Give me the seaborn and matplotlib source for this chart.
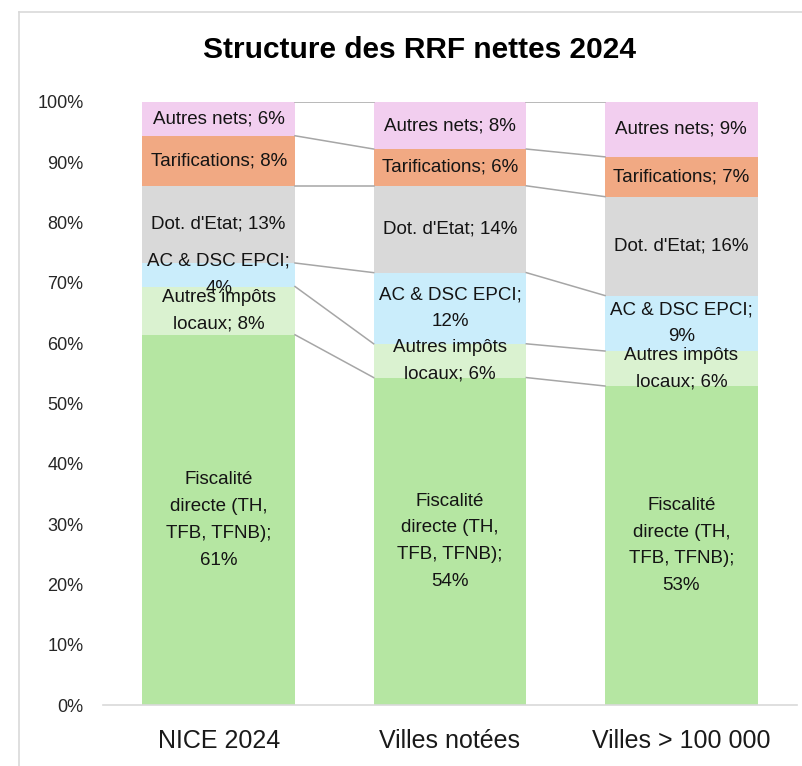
import numpy as np
import pandas as pd
import matplotlib
matplotlib.use('Agg')
import matplotlib.pyplot as plt
import seaborn as sns
from matplotlib.lines import Line2D

# ── Données (parts en %, du bas vers le haut de la barre) ─────────────────
CATEGORIES = ['NICE 2024', 'Villes notées', 'Villes > 100 000']
SERIES = ['Fiscalité directe (TH, TFB, TFNB)', 'Autres impôts locaux',
          'AC & DSC EPCI', "Dot. d'Etat", 'Tarifications', 'Autres nets']
# libellés tels qu'affichés (retours à la ligne compris)
LABEL_NAMES = ['Fiscalité\ndirecte (TH,\nTFB, TFNB);\n', 'Autres impôts\nlocaux; ',
               'AC & DSC EPCI;\n', "Dot. d'Etat; ", 'Tarifications; ', 'Autres nets; ']
fiscalite = [61.4, 54.3, 52.9]
autres_impots = [8.0, 5.6, 5.8]
ac_dsc = [3.9, 11.8, 9.2]
dotations = [12.8, 14.4, 16.4]
tarifications = [8.3, 6.1, 6.6]
autres_nets = [5.6, 7.8, 9.1]
COLORS = ['#b5e6a2', '#daf2d0', '#caedfb', '#d9d9d9', '#f1a983', '#f2ceef']

df = pd.DataFrame({'cat': CATEGORIES,
                   SERIES[0]: fiscalite, SERIES[1]: autres_impots,
                   SERIES[2]: ac_dsc, SERIES[3]: dotations,
                   SERIES[4]: tarifications, SERIES[5]: autres_nets})
shares = df[SERIES].div(df[SERIES].sum(axis=1), axis=0)
cum = shares.cumsum(axis=1)

plt.rcParams['font.family'] = ['Liberation Sans', 'DejaVu Sans']

fig = plt.figure(figsize=(8.03, 7.66), dpi=100)
ax = fig.add_axes([103 / 803, 1 - 705 / 766, 694 / 803, 603 / 766])

BAR_W = 0.66
# barres empilées : on trace les cumuls du haut vers le bas
for i in range(len(SERIES) - 1, -1, -1):
    sns.barplot(x=df['cat'], y=cum[SERIES[i]], color=COLORS[i], saturation=1,
                width=BAR_W, linewidth=0, ax=ax, order=CATEGORIES)

# lignes de série entre les barres
for i in range(len(SERIES)):
    for j in range(len(CATEGORIES) - 1):
        ax.plot([j + BAR_W / 2, j + 1 - BAR_W / 2],
                [cum[SERIES[i]].iloc[j], cum[SERIES[i]].iloc[j + 1]],
                color='#a6a6a6', lw=1.1, zorder=1)

# étiquettes de données
for j in range(len(CATEGORIES)):
    for i, s in enumerate(SERIES):
        v = shares[s].iloc[j]
        y = cum[s].iloc[j] - v / 2
        ax.text(j, y, f'{LABEL_NAMES[i]}{round(v * 100):.0f}%',
                ha='center', va='center', fontsize=13.5, color='#141414',
                linespacing=1.75, zorder=5)

ax.set_xlim(-0.5, 2.5)
ax.set_ylim(0, 1)
ax.set_yticks(np.arange(0, 1.01, 0.1))
ax.set_yticklabels([f'{int(round(t * 100))}%' for t in np.arange(0, 1.01, 0.1)],
                   fontsize=13, color='#262626')
ax.tick_params(axis='x', length=0, pad=17, labelsize=18, labelcolor='#1a1a1a')
ax.tick_params(axis='y', length=0, pad=14)
ax.set_xlabel('')
ax.set_ylabel('')
for side in ['left', 'right', 'top']:
    ax.spines[side].set_visible(False)
ax.spines['bottom'].set_color('#d9d9d9')
ax.spines['bottom'].set_linewidth(1.2)
ax.set_facecolor('white')

fig.text(420 / 803, 1 - 50 / 766, 'Structure des RRF nettes 2024',
         ha='center', va='center', fontsize=21.5, fontweight='bold', color='black')

# bordure de la zone de graphique
fig.add_artist(Line2D([19 / 803, 19 / 803], [0, 1 - 12 / 766],
                      transform=fig.transFigure, color='#d9d9d9', lw=1.2))
fig.add_artist(Line2D([19 / 803, 1], [1 - 12 / 766, 1 - 12 / 766],
                      transform=fig.transFigure, color='#d9d9d9', lw=1.2))

fig.savefig('out.png', dpi=100)
